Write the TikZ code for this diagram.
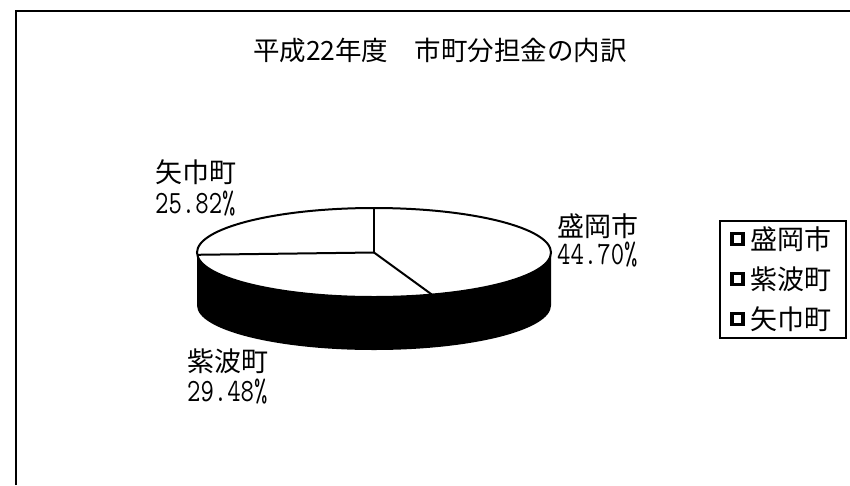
\documentclass[tikz,border=0pt]{standalone}
\usepackage{fontspec}
\usepackage{graphicx}
\newfontfamily\jfont{Noto Sans CJK JP}
\usetikzlibrary{positioning}
\newcommand{\pctval}[1]{\scalebox{1}[1.25]{#1}}

\begin{document}
\begin{tikzpicture}[x=1pt, y=-1pt,
		jlabel/.style={font=\fontsize{27}{30}\selectfont\jfont, inner sep=0pt, anchor=west},
		plabel/.style={font=\fontsize{26}{30}\selectfont\ttfamily, inner sep=0pt, anchor=west},
		keybox/.style={draw, line width=3.6pt, minimum size=11pt, inner sep=0pt}]
				\useasboundingbox (0,0) rectangle (850,485);
				\draw [line width=1.6pt] (16,485) -- (16,11) -- (850,11);
				
				\node [font=\fontsize{26.5}{30}\selectfont\jfont, inner sep=0pt] (title) at (440,50) {平成22年度　市町分担金の内訳};
				
				% Pie
				\coordinate (c) at (374,252.5);
				\fill (551,252.5) -- (551,305.5) arc [start angle=0, end angle=180, x radius=177, y radius=44.5]
					-- (197,252.5) arc [start angle=180, end angle=0, x radius=177, y radius=44.5] -- cycle;
				\draw [line width=2pt, fill=white] (c) ellipse [x radius=177, y radius=44.5];
				\draw [line width=2pt] (c) -- ++(270:177 and 44.5);
				\draw [line width=2pt] (c) -- ++(70.92:177 and 44.5);
				\draw [line width=2pt] (c) -- ++(177.05:177 and 44.5);
				
				\node [jlabel] (yahaba) at (155,172) {矢巾町};
				\node [plabel] (yahabapct) at (155,204) {\pctval{25.82\%}};
				\node [jlabel] (morioka) at (557,226) {盛岡市};
				\node [plabel] (moriokapct) at (557,255) {\pctval{44.70\%}};
				\node [jlabel] (shiwa) at (187,361) {紫波町};
				\node [plabel] (shiwapct) at (187,392) {\pctval{29.48\%}};
				
				% Key
				\draw [line width=1.5pt] (720,221) rectangle (846,338);
				\node [keybox] (key1) at (737.5,239) {};
				\node [jlabel, right=5pt of key1] (keytext1) {盛岡市};
				\node [keybox] (key2) at (737.5,279) {};
				\node [jlabel, right=5pt of key2] (keytext2) {紫波町};
				\node [keybox] (key3) at (737.5,319) {};
				\node [jlabel, right=5pt of key3] (keytext3) {矢巾町};
			\end{tikzpicture}
\end{document}
